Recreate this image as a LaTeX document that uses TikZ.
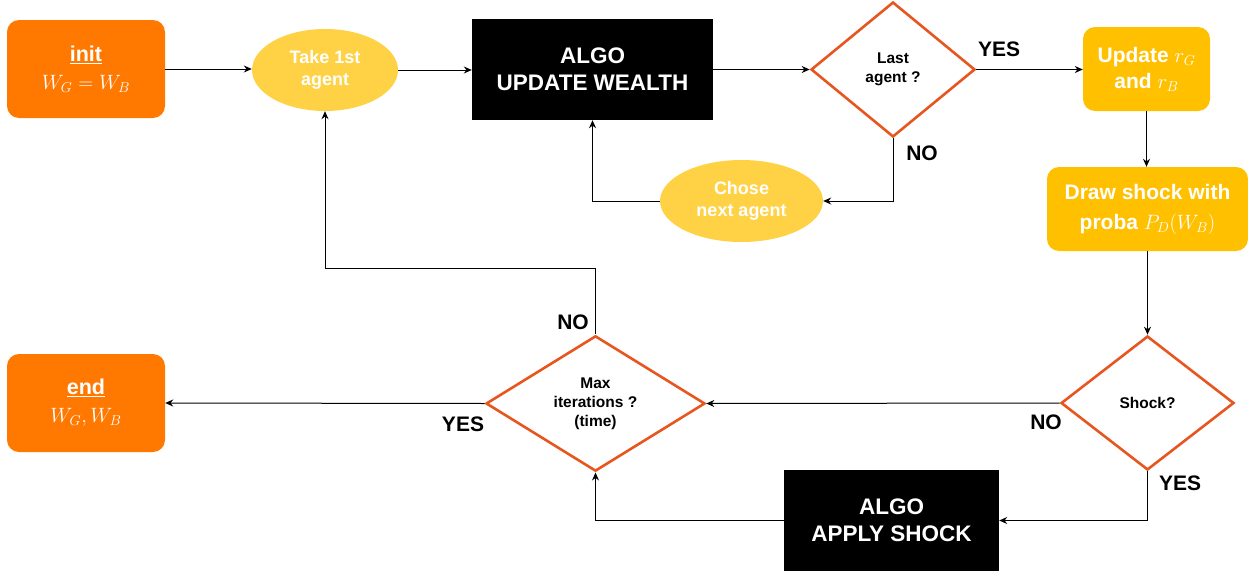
\documentclass[tikz,border=0pt]{standalone}
\usepackage{fontspec}
\setmainfont{Liberation Sans}
\usetikzlibrary{shapes.geometric,arrows.meta}
\definecolor{orangeA}{RGB}{255,120,0}
\definecolor{yellowA}{RGB}{255,210,70}
\definecolor{amberA}{RGB}{255,192,0}
\definecolor{redA}{RGB}{230,86,30}
\tikzset{
  termbox/.style={rectangle,rounded corners=12pt,fill=orangeA,text=white,font=\bfseries\fontsize{21.5}{26}\selectfont,align=center,minimum width=158pt,minimum height=98pt,inner sep=0pt},
  procbox/.style={rectangle,rounded corners=12pt,fill=amberA,text=white,font=\bfseries\fontsize{21}{26}\selectfont,align=center,inner sep=0pt},
  algobox/.style={rectangle,fill=black,text=white,font=\bfseries\fontsize{22.5}{27}\selectfont,align=center,inner sep=0pt},
  agentell/.style={ellipse,fill=yellowA,text=white,font=\bfseries\fontsize{18}{21.5}\selectfont,align=center,inner sep=0pt},
  decision/.style={diamond,draw=redA,line width=2.6pt,fill=white,font=\bfseries\fontsize{15.5}{19}\selectfont,align=center,inner sep=0pt},
  lbl/.style={font=\bfseries\fontsize{21}{24}\selectfont,inner sep=0pt},
  arr/.style={line width=1pt,-{Stealth[length=8pt,width=7pt]}},
  ln/.style={line width=1pt}
}
\begin{document}
\begin{tikzpicture}[x=1pt,y=-1pt]
\useasboundingbox (0,0) rectangle (1248,573);
% nodes
\node[termbox] (init) at (86,69) {\underline{init}\\[2pt]$W_G = W_B$};
\node[agentell,minimum width=146pt,minimum height=82pt] (take) at (325,70) {Take 1st\\agent};
\node[algobox,minimum width=241pt,minimum height=101pt] (algo1) at (592.5,69.5) {ALGO\\UPDATE WEALTH};
\node[decision,minimum width=164pt,minimum height=135pt] (last) at (893,69.5) {Last\\agent ?};
\node[procbox,minimum width=127pt,minimum height=84pt] (upd) at (1146.5,69) {Update $r_G$\\and $r_B$};
\node[agentell,minimum width=163pt,minimum height=82pt] (chose) at (741.5,201) {Chose\\next agent};
\node[procbox,minimum width=201pt,minimum height=84pt] (drawsh) at (1147.5,209) {Draw shock with\\[4pt]proba $P_D(W_B)$};
\node[decision,minimum width=173pt,minimum height=134pt] (shock) at (1147.5,403) {Shock?};
\node[algobox,minimum width=215pt,minimum height=101pt] (apply) at (891.5,520.5) {ALGO\\APPLY SHOCK};
\node[decision,minimum width=219pt,minimum height=135pt] (maxit) at (595.5,403.5) {Max\\iterations ?\\(time)};
\node[termbox] (endn) at (86,403) {\underline{end}\\[2pt]$W_G, W_B$};
% labels
\node[lbl] (yes1) at (999,49) {YES};
\node[lbl] (no1) at (922,153) {NO};
\node[lbl] (no2) at (1046,422) {NO};
\node[lbl] (yes2) at (1180,483) {YES};
\node[lbl] (no3) at (573,322) {NO};
\node[lbl] (yes3) at (463,424) {YES};
\coordinate (k) at (0,268);
% connectors
\draw[arr] (init.east) -- (take.west |- init.east);
\draw[arr] (take.east) -- (algo1.west |- take.east);
\draw[arr] (algo1.east) -- (last.west);
\draw[arr] (last.east) -- (upd.west |- last.east);
\draw[arr] (last.south) |- (chose.east);
\draw[arr] (chose.west) -| (algo1.south);
\draw[arr] (upd.south) -- (upd.south |- drawsh.north);
\draw[arr] (shock.north |- drawsh.south) -- (shock.north);
\draw[arr] (shock.west) -- (maxit.east);
\draw[arr] (shock.south) |- (apply.east);
\draw[arr] (apply.west) -| (maxit.south);
\draw[arr] (maxit.north) -- (maxit.north |- k) -| (take.south);
\draw[arr] (maxit.west) -- (endn.east);
\end{tikzpicture}
\end{document}
